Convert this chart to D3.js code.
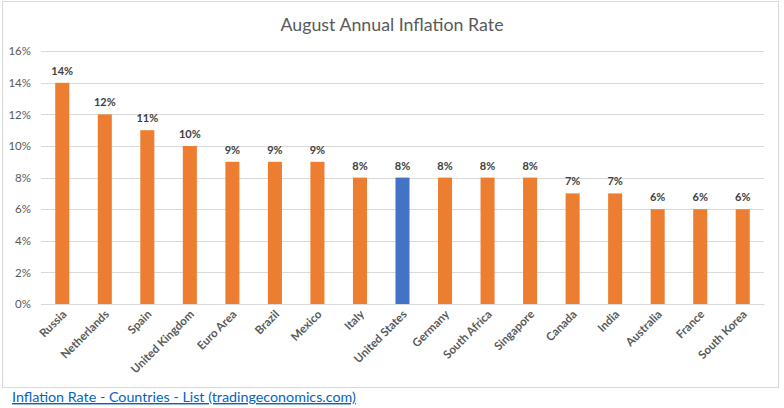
<!DOCTYPE html>
<html><head><meta charset="utf-8">
<script src="https://cdn.jsdelivr.net/npm/d3@7"></script>
<style>
body{margin:0;background:#fff;}
svg{display:block;font-family:Lato,"Open Sans",sans-serif;}
</style></head><body>
<svg id="c" width="784" height="408"></svg>
<script>
const categories = ["Russia","Netherlands","Spain","United Kingdom","Euro Area","Brazil","Mexico","Italy","United States","Germany","South Africa","Singapore","Canada","India","Australia","France","South Korea"];
const values = [14,12,11,10,9,9,9,8,8,8,8,8,7,7,6,6,6];
const highlight = ["United States"];
const yTicks = [0,2,4,6,8,10,12,14,16];
const title = "August Annual Inflation Rate";
const linkText = "Inflation Rate - Countries - List (tradingeconomics.com)";

(function(){
const svg = d3.select("#c");
svg.append("rect").attr("x",2.5).attr("y",1.5).attr("width",776).attr("height",386)
  .attr("fill","#fff").attr("stroke","#d9d9d9");

const pL=41,pR=764,pT=51.2,pB=304;
const x = d3.scaleBand().domain(categories).range([pL,pR]).paddingInner(0.67).paddingOuter(0.335);
const y = d3.scaleLinear().domain([0,16]).range([pB,pT]);

svg.append("g").selectAll("line").data(yTicks).join("line")
  .attr("x1",pL).attr("x2",pR).attr("y1",d=>Math.round(y(d))+0.5).attr("y2",d=>Math.round(y(d))+0.5)
  .attr("stroke","#d9d9d9").attr("stroke-width",1);

const yAxis = d3.axisLeft(y).tickValues(yTicks).tickFormat(d=>d+"%").tickSize(0).tickPadding(0);
const gy = svg.append("g").attr("transform",`translate(31,0)`).call(yAxis);
gy.select(".domain").remove();
gy.selectAll("text").attr("fill","#595959").attr("font-size",11.5).attr("font-family","Lato,sans-serif");

svg.append("g").selectAll("rect").data(categories).join("rect")
  .attr("x",(d)=>x(d)).attr("width",x.bandwidth())
  .attr("y",(d,i)=>y(values[i])).attr("height",(d,i)=>y(0)-y(values[i]))
  .attr("fill",d=>highlight.includes(d)?"#4472C4":"#ED7D31");

svg.append("g").selectAll("text").data(categories).join("text")
  .attr("x",d=>x(d)+x.bandwidth()/2).attr("y",(d,i)=>y(values[i])-8)
  .attr("text-anchor","middle").attr("font-size",11).attr("font-weight","bold")
  .attr("fill","#404040").text((d,i)=>values[i]+"%");

const xAxis = d3.axisBottom(x).tickSize(0).tickPadding(0);
const gx = svg.append("g").attr("transform",`translate(0,${pB})`).call(xAxis);
gx.select(".domain").attr("stroke","#d9d9d9");
gx.selectAll("text")
  .attr("fill","#595959").attr("font-size",11.5).attr("font-weight","bold").attr("font-family","Lato,sans-serif")
  .attr("text-anchor","end").attr("dy",0)
  .attr("transform","translate(5,11) rotate(-45)");

svg.append("text").attr("x",392).attr("y",31).attr("text-anchor","middle")
  .attr("font-size",17.8).attr("fill","#595959").text(title);

svg.append("text").attr("x",12).attr("y",402).attr("font-size",14.3)
  .attr("fill","#0563C1").attr("text-decoration","underline").text(linkText);
})();
</script>
</body></html>
